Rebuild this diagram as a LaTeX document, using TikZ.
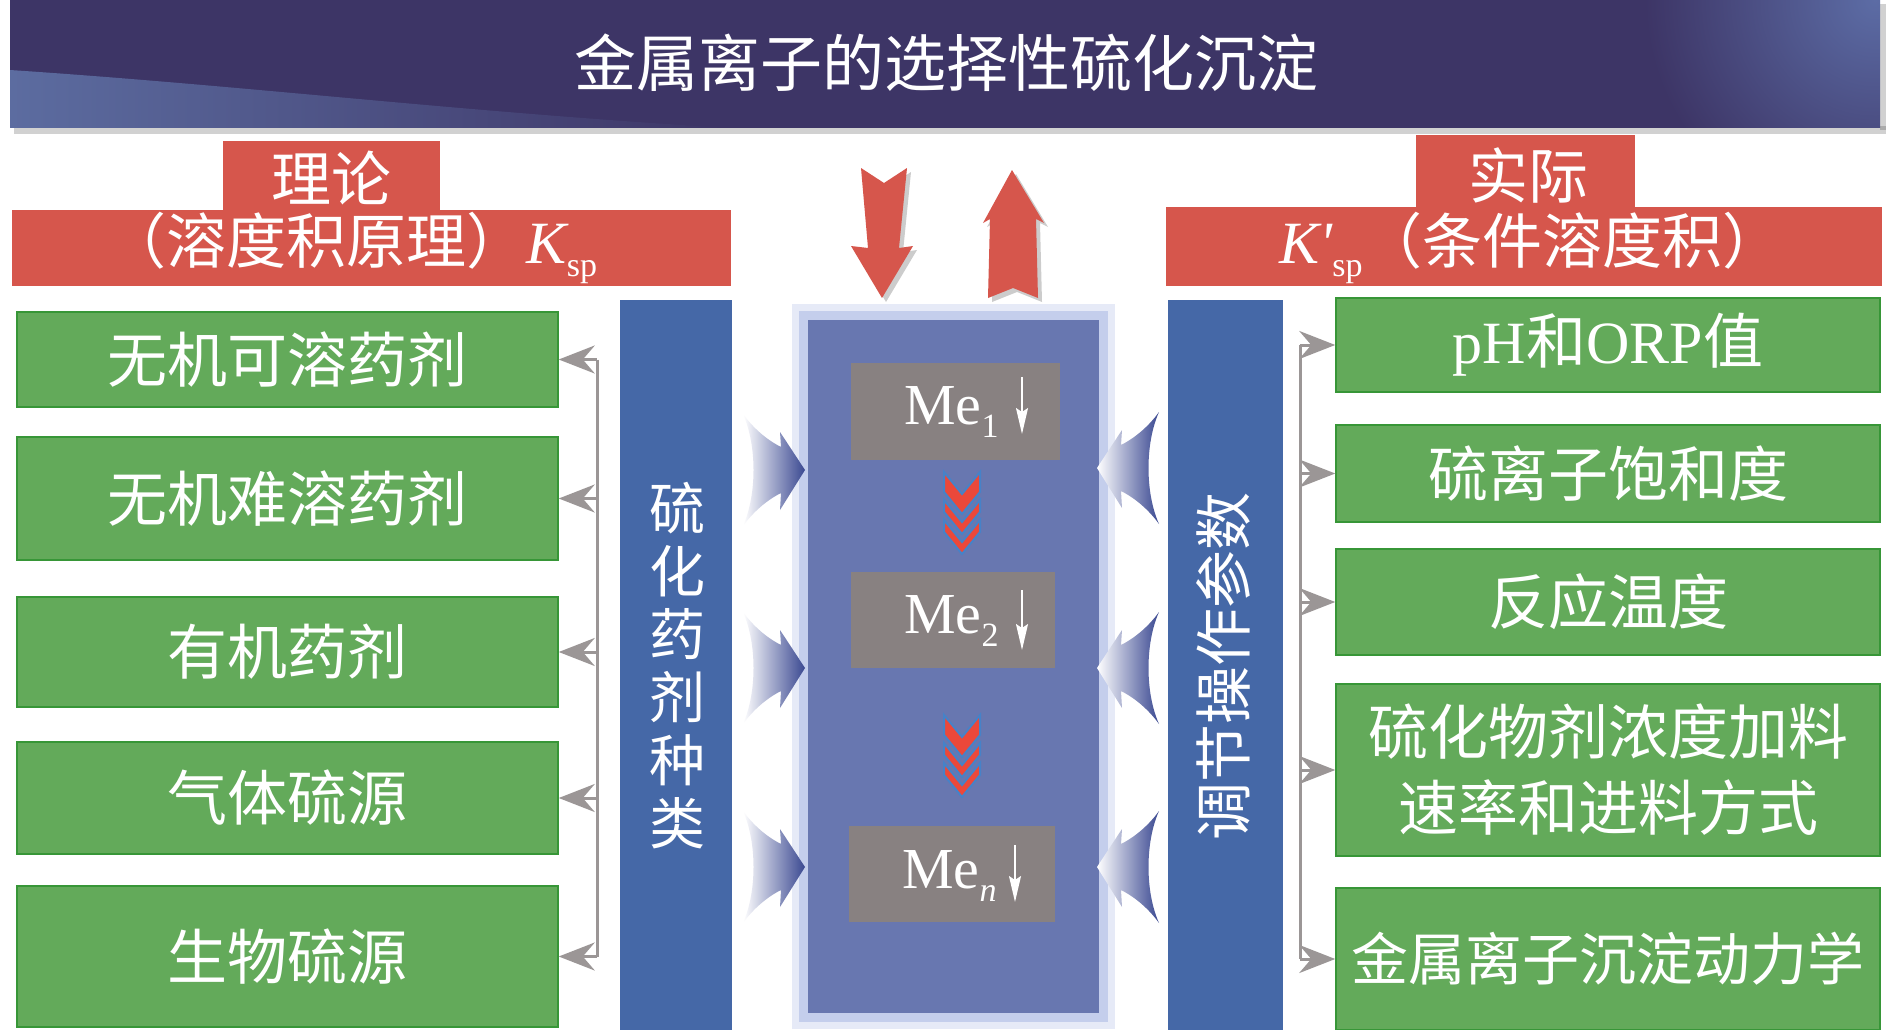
\documentclass[tikz,border=0pt]{standalone}
\usepackage{fontspec}
\setmainfont{Liberation Serif}
\newfontfamily\cjk{Noto Sans CJK SC}
\newfontfamily\plainserif{Liberation Serif}[Ligatures=TeXOff]
\usetikzlibrary{arrows.meta}
\definecolor{navy}{RGB}{61,53,102}
\definecolor{swooshc}{RGB}{92,108,160}
\definecolor{hlc}{RGB}{92,108,165}
\definecolor{redc}{RGB}{214,86,76}
\definecolor{gfill}{RGB}{99,170,90}
\definecolor{gedge}{RGB}{55,150,55}
\definecolor{barblue}{RGB}{69,104,167}
\definecolor{cboxc}{RGB}{104,119,176}
\definecolor{glowc}{RGB}{196,206,236}
\definecolor{glowc2}{RGB}{230,234,247}
\definecolor{greybox}{RGB}{136,129,129}
\definecolor{chevred}{RGB}{235,72,58}
\definecolor{chevblue}{RGB}{70,130,200}
\definecolor{conngray}{RGB}{155,150,150}
\definecolor{arrowblue}{RGB}{58,72,145}
\newcommand\fsz[2]{\fontsize{#1}{#2}\selectfont}
\newcommand\lowsub[1]{\raisebox{-13pt}{\fsz{34}{34}#1}}
\newcommand\chev[3]{%
  \filldraw[fill=chevred,draw=chevblue,line width=2pt]
    (#1-18,#2) -- (#1,#2+22) -- (#1+18,#2) -- (#1+18,#2+#3) -- (#1,#2+22+#3) -- (#1-18,#2+#3) -- cycle;}
\begin{document}
\begin{tikzpicture}[x=1pt,y=-1pt,
  gbox/.style={draw=gedge,line width=1.5pt,fill=gfill,text=white,inner sep=0pt,align=center,font=\cjk\fsz{60}{76}},
  rtxt/.style={text=white,inner sep=0pt,font=\cjk\fsz{60}{70}},
  metxt/.style={text=white,inner sep=0pt,font=\rmfamily\fsz{58}{60}},
  mebox/.style={fill=greybox,inner sep=0pt},
  vtxt/.style={text=white,inner sep=0pt,font=\cjk\fsz{56}{63},align=center},
  conn/.style={draw=conngray,line width=3pt,-{Stealth[length=36pt,width=28pt,inset=12pt]}},
  bus/.style={draw=conngray,line width=3pt},
  wdown/.style={draw=white,line width=1.6pt,-{Stealth[length=26pt,width=12pt,inset=4pt]}},
  curly/.pic={
    \shade[left color=white,right color=arrowblue]
      (0,0) -- (-25,-38) -- (-24,-23) .. controls (-38,-30) and (-52,-42) .. (-62,-56)
      .. controls (-48,-25) and (-48,25) .. (-62,56)
      .. controls (-52,42) and (-38,30) .. (-24,23) -- (-25,40) -- cycle;
  }]
\useasboundingbox (0,0) rectangle (1890,1030);
\fill[white] (0,0) rectangle (1890,1030);

% title banner
\fill[black,opacity=0.18] (14,126) rectangle (1886,134);
\fill[black,opacity=0.18] (1880,4) rectangle (1886,130);
\fill[navy] (10,0) rectangle (1880,128);
\begin{scope}
  \clip (10,0) rectangle (1880,128);
  \shade[left color=swooshc,right color=navy] (10,70) .. controls (250,86) and (460,112) .. (730,128) -- (10,128) -- cycle;
  \shade[inner color=hlc,outer color=navy] (1875,0) circle (230);
\end{scope}
\node[text=white,font=\cjk\fsz{62}{64},inner sep=0pt] (title) at (946,63) {金属离子的选择性硫化沉淀};

% red header shapes
\fill[redc] (223,141) rectangle (440,212);
\fill[redc] (12,210) rectangle (731,286);
\fill[redc] (1416,135) rectangle (1635,209);
\fill[redc] (1166,207) rectangle (1882,286);
\node[rtxt] (lt1) at (331,178) {理论};
\node[rtxt,anchor=base] (lt2) at (352,263) {（溶度积原理）{\rmfamily\itshape K}\lowsub{\rmfamily sp}};
\node[rtxt] (rt1) at (1528,175) {实际};
\node[rtxt,anchor=base] (rt2) at (1531,263) {{\plainserif\itshape K\symbol{39}}\lowsub{\rmfamily sp}（条件溶度积）};

% red arrows
\fill[black,opacity=0.2] (865,172) -- (888,187) -- (911,172) -- (903,252) -- (917,250) -- (886,302) -- (855,250) -- (872,252) -- cycle;
\fill[black,opacity=0.2] (1016,174) -- (1048,227) -- (1040,223) -- (1042,302) -- (1017,292) -- (992,302) -- (994,223) -- (987,227) -- cycle;
\fill[redc] (861,168) -- (884,183) -- (907,168) -- (899,248) -- (913,246) -- (882,298) -- (851,246) -- (868,248) -- cycle;
\fill[redc] (1012,170) -- (1044,223) -- (1036,219) -- (1038,298) -- (1013,288) -- (988,298) -- (990,219) -- (983,223) -- cycle;

% side bars
\fill[barblue] (620,300) rectangle (732,1030);
\fill[barblue] (1168,300) rectangle (1283,1030);
\node[vtxt] (lv) at (677,666) {硫\\化\\药\\剂\\种\\类};
\node[vtxt,font=\cjk\fsz{58}{63},rotate=90] (rv) at (1223,666) {调节操作参数};

% centre box
\fill[glowc2] (792,304) rectangle (1115,1029);
\fill[glowc] (799,311) rectangle (1108,1022);
\node[fill=cboxc,inner sep=0pt,minimum width=291,minimum height=693] (cbox) at (953.5,666.5) {};

% gray metal boxes
\node[mebox,minimum width=209,minimum height=97] (me1) at (955.5,411.5) {};
\node[mebox,minimum width=204,minimum height=96] (me2) at (953,620) {};
\node[mebox,minimum width=206,minimum height=96] (men) at (952,874) {};
\node[metxt,anchor=base west] (me1t) at (904,424) {Me\lowsub{1}};
\node[metxt,anchor=base west] (me2t) at (904,633) {Me\lowsub{2}};
\node[metxt,anchor=base west] (ment) at (902,888) {Me\lowsub{\itshape n}};
\draw[wdown] (1022,377) -- (1022,434);
\draw[wdown] (1022,590) -- (1022,650);
\draw[wdown] (1015,845) -- (1015,902);

% chevrons
\chev{962}{472}{20}
\chev{962}{500}{12}
\chev{962}{520}{12}
\chev{962}{715}{20}
\chev{962}{743}{12}
\chev{962}{763}{12}

% curly blue arrows
\pic at (805,470) {curly};
\pic at (805,668) {curly};
\pic at (805,867) {curly};
\pic[xscale=-1] at (1097,468) {curly};
\pic[xscale=-1] at (1097,668) {curly};
\pic[xscale=-1] at (1097,867) {curly};

% left green boxes
\node[gbox,minimum width=541,minimum height=95] (g1) at (287.5,359.5) {无机可溶药剂};
\node[gbox,minimum width=541,minimum height=123] (g2) at (287.5,498.5) {无机难溶药剂};
\node[gbox,minimum width=541,minimum height=110] (g3) at (287.5,652) {有机药剂};
\node[gbox,minimum width=541,minimum height=112] (g4) at (287.5,798) {气体硫源};
\node[gbox,minimum width=541,minimum height=141] (g5) at (287.5,956.5) {生物硫源};

% right green boxes
\node[gbox,minimum width=544,minimum height=94] (r1) at (1608,345) {{\rmfamily pH}和{\rmfamily ORP}值};
\node[gbox,minimum width=544,minimum height=97] (r2) at (1608,473.5) {硫离子饱和度};
\node[gbox,minimum width=544,minimum height=106] (r3) at (1608,602) {反应温度};
\node[gbox,minimum width=544,minimum height=172] (r4) at (1608,770) {硫化物剂浓度加料\\速率和进料方式};
\node[gbox,minimum width=544,minimum height=142,font=\cjk\fsz{57}{70}] (r5) at (1608,959) {金属离子沉淀动力学};

% connectors
\coordinate (lbus) at (597,0);
\coordinate (rbus) at (1300,0);
\draw[bus] (lbus |- g1.east) -- (lbus |- g5.east);
\foreach \n in {g1,g2,g3,g4,g5} \draw[conn] (lbus |- \n.east) -- (\n.east);
\draw[bus] (rbus |- r1.west) -- (rbus |- r5.west);
\foreach \n in {r1,r2,r3,r4,r5} \draw[conn] (rbus |- \n.west) -- (\n.west);
\end{tikzpicture}
\end{document}
